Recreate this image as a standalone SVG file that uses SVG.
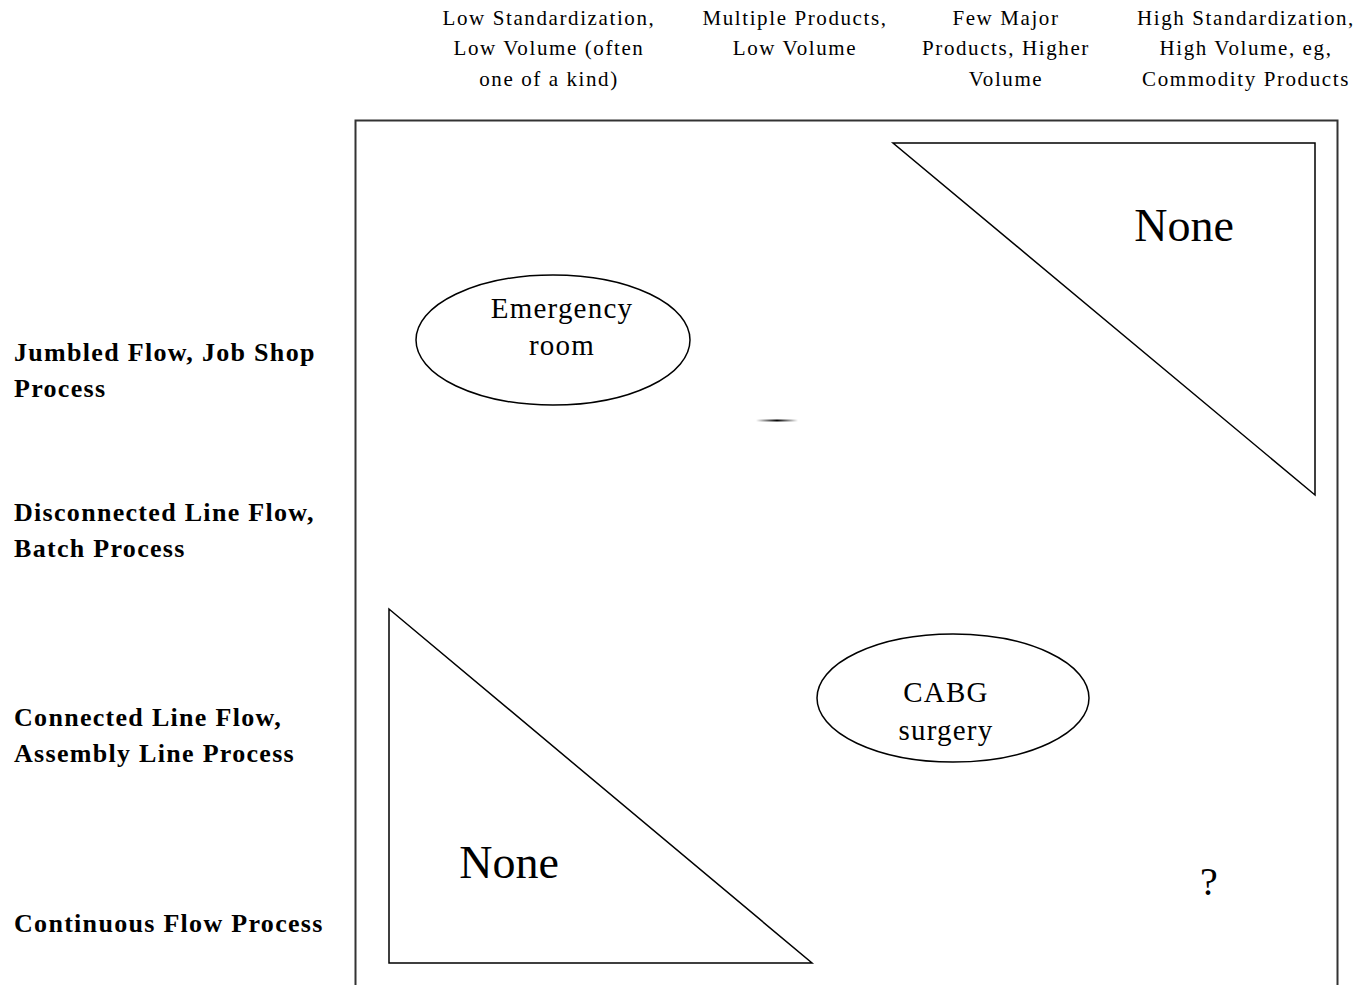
<svg xmlns="http://www.w3.org/2000/svg" width="1364" height="985" viewBox="0 0 1364 985">
<style>
.hdr{font-family:"Liberation Serif",serif;font-size:21px;letter-spacing:1.6px;fill:#000;text-anchor:middle}
.row{font-family:"Liberation Serif",serif;font-size:26px;letter-spacing:1.3px;font-weight:bold;fill:#000}
.lbl{font-family:"Liberation Serif",serif;font-size:29px;letter-spacing:1.2px;fill:#000;text-anchor:middle}
.none{font-family:"Liberation Serif",serif;font-size:46px;fill:#000;text-anchor:middle}
.q{font-family:"Liberation Serif",serif;font-size:40px;fill:#000;text-anchor:middle}
.shape{fill:#fff;stroke:#000;stroke-width:1.5}
</style>
<defs>
<linearGradient id="fade" x1="0" x2="1" y1="0" y2="0">
<stop offset="0" stop-color="#000" stop-opacity="0"/>
<stop offset="0.5" stop-color="#000" stop-opacity="1"/>
<stop offset="1" stop-color="#000" stop-opacity="0"/>
</linearGradient>
</defs>
<rect width="1364" height="985" fill="#fff"/>
<g id="headers">
<text class="hdr" x="549" y="25">Low Standardization,</text>
<text class="hdr" x="549" y="55">Low Volume (often</text>
<text class="hdr" x="549" y="86">one of a kind)</text>
<text class="hdr" x="795" y="25">Multiple Products,</text>
<text class="hdr" x="795" y="55">Low Volume</text>
<text class="hdr" x="1006" y="25">Few Major</text>
<text class="hdr" x="1006" y="55">Products, Higher</text>
<text class="hdr" x="1006" y="86">Volume</text>
<text class="hdr" x="1246" y="25">High Standardization,</text>
<text class="hdr" x="1246" y="55">High Volume, eg,</text>
<text class="hdr" x="1246" y="86">Commodity Products</text>
</g>
<g id="rows">
<text class="row" x="14" y="361">Jumbled Flow, Job Shop</text>
<text class="row" x="14" y="397">Process</text>
<text class="row" x="14" y="521">Disconnected Line Flow,</text>
<text class="row" x="14" y="557">Batch Process</text>
<text class="row" x="14" y="726">Connected Line Flow,</text>
<text class="row" x="14" y="762">Assembly Line Process</text>
<text class="row" x="14" y="932">Continuous Flow Process</text>
</g>
<g id="frame">
<rect x="355.5" y="120.5" width="982" height="866" fill="none" stroke="#333" stroke-width="2"/>
</g>
<g id="none-top">
<polygon class="shape" points="893,143 1315,143 1315,495"/>
<text class="none" x="1184" y="241">None</text>
</g>
<g id="none-bottom">
<polygon class="shape" points="389,609 389,963 812,963"/>
<text class="none" x="509" y="878">None</text>
</g>
<g id="emergency-room">
<ellipse class="shape" cx="553" cy="340" rx="137" ry="65"/>
<text class="lbl" x="562" y="318">Emergency</text>
<text class="lbl" x="562" y="355">room</text>
</g>
<g id="cabg">
<ellipse class="shape" cx="953" cy="698" rx="136" ry="64"/>
<text class="lbl" x="946" y="702">CABG</text>
<text class="lbl" x="946" y="740">surgery</text>
</g>
<g id="question">
<text class="q" x="1209" y="895">?</text>
</g>
<g id="connectors">
<rect x="756" y="419.5" width="42" height="2" fill="url(#fade)"/>
</g>
</svg>
